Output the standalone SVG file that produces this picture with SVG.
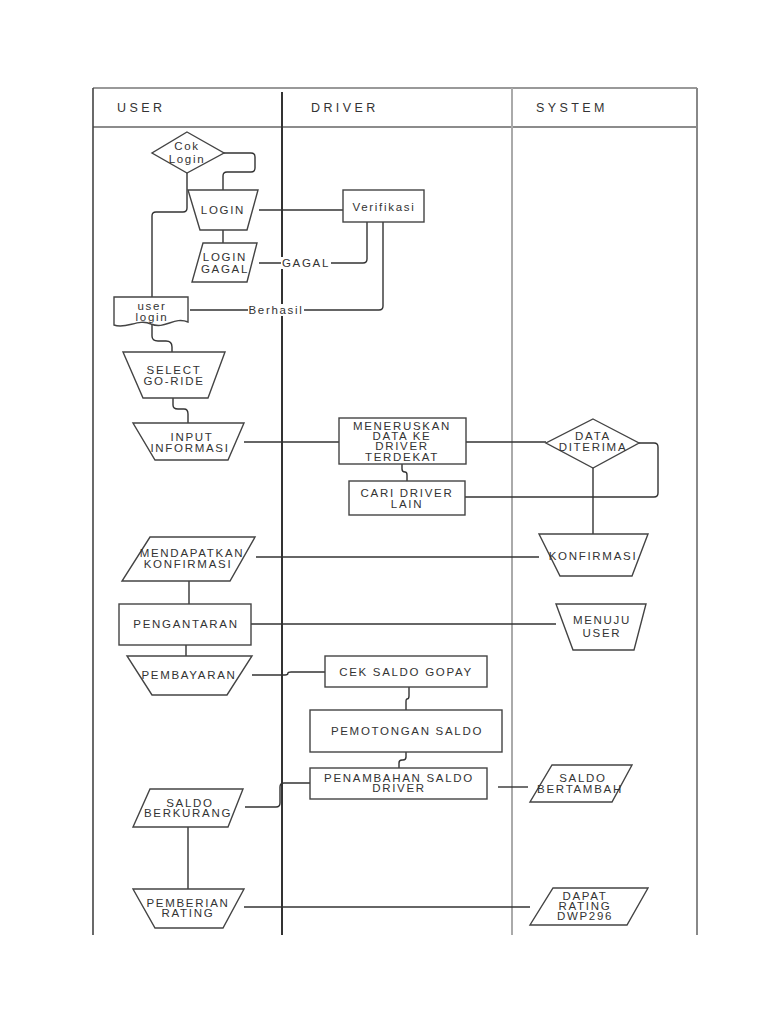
<svg xmlns="http://www.w3.org/2000/svg" width="768" height="1024" viewBox="0 0 768 1024">
<style>
.sh{fill:#fff;stroke:#444;stroke-width:1.4}
.cn{fill:none;stroke:#333;stroke-width:1.4}
.t{font-family:"Liberation Sans",Arial,sans-serif;font-size:11.5px;fill:#333;text-anchor:middle;letter-spacing:1.7px}
.h{font-family:"Liberation Sans",Arial,sans-serif;font-size:12.5px;fill:#333;letter-spacing:3.4px}
.lb{fill:#fff}
</style>
<rect width="768" height="1024" fill="#fff"/>
<g id="frame">
<line x1="93" y1="88" x2="697" y2="88" stroke="#777" stroke-width="1.6"/>
<line x1="93" y1="127" x2="697" y2="127" stroke="#666" stroke-width="1.6"/>
<line x1="93" y1="88" x2="93" y2="935" stroke="#444" stroke-width="1.6"/>
<line x1="282" y1="92" x2="282" y2="935" stroke="#333" stroke-width="2"/>
<line x1="512" y1="88" x2="512" y2="935" stroke="#aaa" stroke-width="2"/>
<line x1="697" y1="88" x2="697" y2="935" stroke="#888" stroke-width="2"/>
<text class="h" x="117" y="112">USER</text>
<text class="h" x="311" y="112">DRIVER</text>
<text class="h" x="536" y="112">SYSTEM</text>
</g>
<g id="connectors">
<path class="cn" d="M224,153 H251 Q255,153 255,157 V168 Q255,172 251,172 H227 Q223,172 223,176 V190"/>
<path class="cn" d="M187,173 V208 Q187,212 183,212 H156 Q152,212 152,216 V297"/>
<path class="cn" d="M259,210 H343"/>
<path class="cn" d="M223,230 V243"/>
<path class="cn" d="M259,263 H363 Q367,263 367,259 V222"/>
<path class="cn" d="M383,222 V306 Q383,310 379,310 H190"/>
<path class="cn" d="M152,324 V336 Q152,341 158,341 H166 Q172,341 172,347 V352"/>
<path class="cn" d="M173,398 V405 Q173,409 178,409 H184 Q188,409 188,414 V423"/>
<path class="cn" d="M244,442 H339"/>
<path class="cn" d="M466,442 H546"/>
<path class="cn" d="M402,464 V469 Q402,472 405,472 Q407,472 407,475 V481"/>
<path class="cn" d="M639,443 H654 Q658,443 658,447 V493 Q658,497 654,497 H465"/>
<path class="cn" d="M593,468 V534"/>
<path class="cn" d="M256,557 H539"/>
<path class="cn" d="M189,581 V604"/>
<path class="cn" d="M251,624 H556"/>
<path class="cn" d="M186,645 V656"/>
<path class="cn" d="M252,675 H285 Q288,675 288,673 Q288,672 291,672 H325"/>
<path class="cn" d="M409,687 V696 Q409,699 407,699 Q406,699 406,702 V710"/>
<path class="cn" d="M406,752 V757 Q406,760 403,760 H402 Q399,760 399,763 V768"/>
<path class="cn" d="M310,783 H284 Q280,783 280,787 V803 Q280,807 276,807 H245"/>
<path class="cn" d="M498,787 H528"/>
<path class="cn" d="M188,827 V889" stroke-width="2.2"/>
<path class="cn" d="M244,907 H530"/>
<rect class="lb" x="281" y="257" width="50" height="12"/>
<text class="t" x="306" y="267">GAGAL</text>
<rect class="lb" x="248" y="304" width="56" height="12"/>
<text class="t" x="276" y="314">Berhasil</text>
</g>
<g id="cok-login">
<polygon class="sh" points="187,132 224,153 187,173 152,153"/>
<text class="t" x="187" y="150">Cok</text>
<text class="t" x="187" y="163">Login</text>
</g>
<g id="login">
<polygon class="sh" points="188,190 258,190 247,230 200,230"/>
<text class="t" x="223" y="214">LOGIN</text>
</g>
<g id="verifikasi">
<rect class="sh" x="343" y="190" width="81" height="32"/>
<text class="t" x="384" y="211">Verifikasi</text>
</g>
<g id="login-gagal">
<polygon class="sh" points="203,243 257,243 247,282 192,282"/>
<text class="t" x="225" y="261">LOGIN</text>
<text class="t" x="225" y="273">GAGAL</text>
</g>
<g id="user-login">
<path class="sh" d="M114,297 H188 V322 C174,316 165,330 151,324 C138,318 126,330 114,325 Z"/>
<text class="t" x="152" y="310">user</text>
<text class="t" x="152" y="321">login</text>
</g>
<g id="select-go-ride">
<polygon class="sh" points="123,352 225,352 208,398 143,398"/>
<text class="t" x="174" y="374">SELECT</text>
<text class="t" x="174" y="385">GO-RIDE</text>
</g>
<g id="input-informasi">
<polygon class="sh" points="133,423 244,423 228,460 155,460"/>
<text class="t" x="192" y="441">INPUT</text>
<text class="t" x="190" y="452">INFORMASI</text>
</g>
<g id="meneruskan">
<rect class="sh" x="339" y="418" width="127" height="46"/>
<text class="t" x="402" y="430">MENERUSKAN</text>
<text class="t" x="402" y="440">DATA KE</text>
<text class="t" x="402" y="450">DRIVER</text>
<text class="t" x="402" y="461">TERDEKAT</text>
</g>
<g id="cari-driver">
<rect class="sh" x="349" y="481" width="116" height="34"/>
<text class="t" x="407" y="497">CARI DRIVER</text>
<text class="t" x="407" y="508">LAIN</text>
</g>
<g id="data-diterima">
<polygon class="sh" points="593,419 639,443 593,468 546,443"/>
<text class="t" x="593" y="440">DATA</text>
<text class="t" x="593" y="451">DITERIMA</text>
</g>
<g id="konfirmasi">
<polygon class="sh" points="539,534 648,534 632,576 560,576"/>
<text class="t" x="593" y="560">KONFIRMASI</text>
</g>
<g id="mendapatkan">
<polygon class="sh" points="150,537 255,537 230,581 122,581"/>
<text class="t" x="192" y="557">MENDAPATKAN</text>
<text class="t" x="188" y="568">KONFIRMASI</text>
</g>
<g id="pengantaran">
<rect class="sh" x="119" y="604" width="132" height="41"/>
<text class="t" x="186" y="628">PENGANTARAN</text>
</g>
<g id="menuju-user">
<polygon class="sh" points="556,604 646,604 634,650 573,650"/>
<text class="t" x="602" y="624">MENUJU</text>
<text class="t" x="602" y="637">USER</text>
</g>
<g id="pembayaran">
<polygon class="sh" points="127,656 252,656 227,695 152,695"/>
<text class="t" x="189" y="679">PEMBAYARAN</text>
</g>
<g id="cek-saldo">
<rect class="sh" x="325" y="656" width="162" height="31"/>
<text class="t" x="406" y="676">CEK SALDO GOPAY</text>
</g>
<g id="pemotongan">
<rect class="sh" x="310" y="710" width="192" height="42"/>
<text class="t" x="407" y="735">PEMOTONGAN SALDO</text>
</g>
<g id="penambahan">
<rect class="sh" x="310" y="768" width="177" height="31"/>
<text class="t" x="399" y="782">PENAMBAHAN SALDO</text>
<text class="t" x="399" y="792">DRIVER</text>
</g>
<g id="saldo-berkurang">
<polygon class="sh" points="150,789 243,789 228,827 133,827"/>
<text class="t" x="190" y="807">SALDO</text>
<text class="t" x="188" y="817">BERKURANG</text>
</g>
<g id="saldo-bertambah">
<polygon class="sh" points="552,765 632,765 612,802 530,802"/>
<text class="t" x="583" y="782">SALDO</text>
<text class="t" x="580" y="793">BERTAMBAH</text>
</g>
<g id="pemberian-rating">
<polygon class="sh" points="133,889 244,889 223,928 155,928"/>
<text class="t" x="188" y="907">PEMBERIAN</text>
<text class="t" x="188" y="917">RATING</text>
</g>
<g id="dapat-rating">
<polygon class="sh" points="553,888 648,888 627,925 530,925"/>
<text class="t" x="585" y="900">DAPAT</text>
<text class="t" x="585" y="910">RATING</text>
<text class="t" x="585" y="920">DWP296</text>
</g>
</svg>
